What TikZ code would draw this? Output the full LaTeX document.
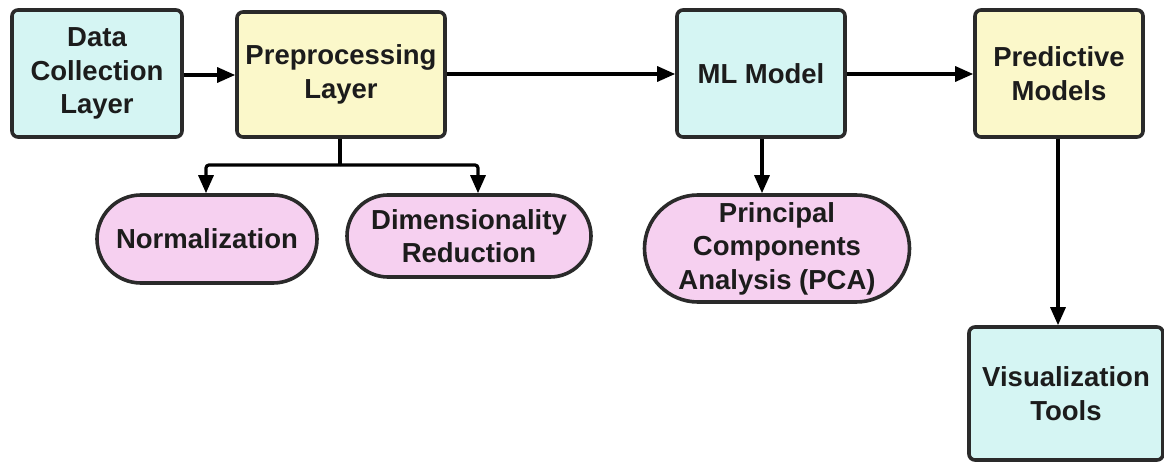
\documentclass[tikz,border=0pt]{standalone}
\usepackage{fontspec}
\setmainfont{Liberation Sans}
\usetikzlibrary{arrows.meta,shapes.misc}
\definecolor{cyanfill}{HTML}{D5F5F3}
\definecolor{yelfill}{HTML}{FBF8CA}
\definecolor{pinkfill}{HTML}{F6D0F0}
\definecolor{edge}{HTML}{2A2A2A}
\definecolor{txt}{HTML}{1C1C1C}
\begin{document}
\begin{tikzpicture}[x=1pt,y=-1pt,
  box/.style={draw=edge,line width=3.6pt,rounded corners=6pt,align=center,
    inner sep=0pt,text=txt,font=\fontsize{27.5}{33.5}\selectfont\bfseries},
  cbox/.style={box,fill=cyanfill},
  ybox/.style={box,fill=yelfill},
  pill/.style={draw=edge,line width=3.6pt,rounded rectangle,align=center,
    inner sep=0pt,text=txt,fill=pinkfill,font=\fontsize{27.5}{33.5}\selectfont\bfseries},
  conn/.style={draw=black,line width=3.2pt},
  arr/.style={conn,-{Triangle[length=18pt,width=15pt]}}]
\useasboundingbox (0,0) rectangle (1164,462);
\fill[white] (0,0) rectangle (1164,462);
\node[cbox,minimum width=170pt,minimum height=127pt] (dc) at (97,73.5) {Data\\Collection\\Layer};
\node[ybox,minimum width=208pt,minimum height=125pt] (pre) at (341,74.5) {Preprocessing\\Layer};
\node[cbox,minimum width=168pt,minimum height=127pt] (ml) at (761,73.5) {ML Model};
\node[ybox,minimum width=168pt,minimum height=127pt] (pm) at (1059,73.5) {Predictive\\Models};
\node[pill,minimum width=220pt,minimum height=88pt] (norm) at (207,239) {Normalization};
\node[pill,minimum width=244pt,minimum height=82pt] (dim) at (469,236) {Dimensionality\\Reduction};
\node[pill,minimum width=265pt,minimum height=107pt] (pca) at (777,248.5) {Principal\\Components\\Analysis (PCA)};
\node[cbox,minimum width=194pt,minimum height=133pt] (vis) at (1066,393.5) {Visualization\\Tools};
\coordinate (br) at (340,165);
\draw[arr] (dc.east |- 0,75) -- (pre.west |- 0,75);
\draw[arr] (pre.east |- 0,74) -- (ml.west |- 0,74);
\draw[arr] (ml.east |- 0,74) -- (pm.west |- 0,74);
\draw[conn] (br |- pre.south) -- (br);
\draw[arr,rounded corners=3pt] (br) -| ([xshift=-1pt]norm.north);
\draw[arr,rounded corners=3pt] (br) -| ([xshift=9pt]dim.north);
\draw[arr] ([xshift=1pt]ml.south) -- ([xshift=1pt]ml.south |- pca.north);
\draw[arr] ([xshift=-1pt]pm.south) -- ([xshift=-1pt]pm.south |- vis.north);
\end{tikzpicture}
\end{document}
